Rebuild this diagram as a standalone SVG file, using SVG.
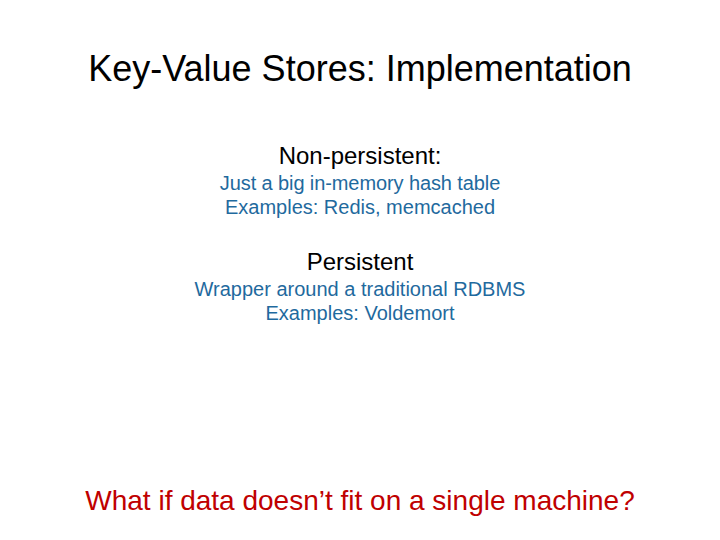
<svg xmlns="http://www.w3.org/2000/svg" width="720" height="540" viewBox="0 0 720 540">
<style>
text{font-family:"Liberation Sans",Arial,sans-serif;text-anchor:middle}
.h{font-size:22px;fill:#000}
.b{font-size:18px;fill:#1F6A9E}
</style>
<rect width="720" height="540" fill="#fff"/>
<g id="title"><text x="360" y="81" style="font-size:36px">Key-Value Stores: Implementation</text></g>
<g id="nonpersistent">
<text class="h" x="360" y="164" style="font-size:24px">Non-persistent:</text>
<text class="b" x="360" y="190" style="font-size:20px;letter-spacing:-0.1px">Just a big in-memory hash table</text>
<text class="b" x="360" y="214" style="font-size:20px">Examples: Redis, memcached</text>
</g>
<g id="persistent">
<text class="h" x="360" y="270" style="font-size:24px">Persistent</text>
<text class="b" x="360" y="296" style="font-size:20px">Wrapper around a traditional RDBMS</text>
<text class="b" x="360" y="320" style="font-size:20px">Examples: Voldemort</text>
</g>
<g id="question"><text x="360" y="510" style="font-size:28px;fill:#C00000">What if data doesn’t fit on a single machine?</text></g>
<g id="connectors"/>
</svg>
